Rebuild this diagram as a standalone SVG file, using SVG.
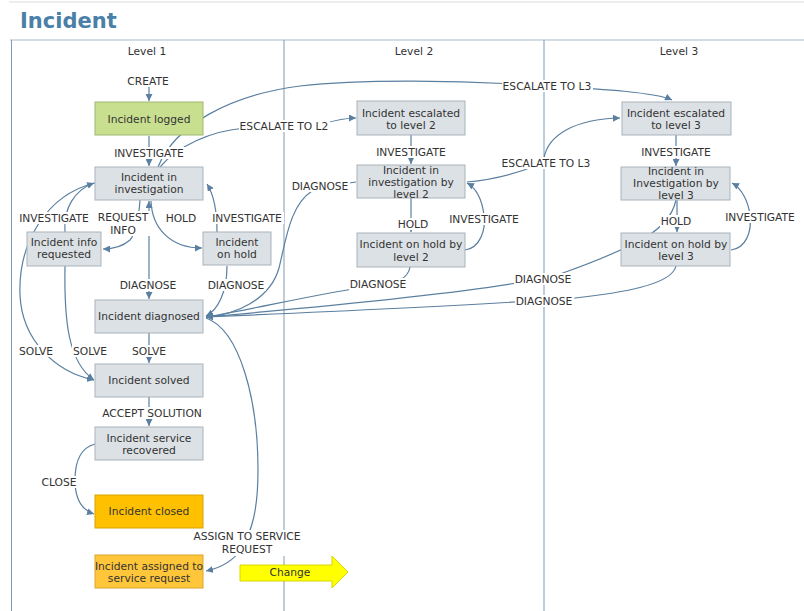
<svg xmlns="http://www.w3.org/2000/svg" width="804" height="611" viewBox="0 0 804 611">
  <defs>
    <marker id="arr" viewBox="0 0 8 8" refX="8" refY="4" markerWidth="7" markerHeight="7" markerUnits="userSpaceOnUse" orient="auto">
      <path d="M0,0 L8,4 L0,8 z" fill="#5a7fa0"/>
    </marker>
    <style>
      .frame { stroke: #7f9bb3; stroke-width: 1; fill: none; }
      .frame-top { stroke: #c3d2de; stroke-width: 1.5; }
      .conn { fill: none; stroke: #5a7fa0; stroke-width: 1.2; marker-end: url(#arr); }
      .node rect { fill: #dce1e5; stroke: #a9b3bb; stroke-width: 1; }
      .node.green rect { fill: #c8df8f; stroke: #9fb870; }
      .node.orange rect { fill: #ffc000; stroke: #d9a300; }
      .node.amber rect { fill: #ffc63a; stroke: #d9a52a; }
      text { font-family: "DejaVu Sans", Verdana, sans-serif; font-size: 10.7px; fill: #333; text-anchor: middle; }
      .lbl rect { fill: #ffffff; }
      .title { font-size: 21px; font-weight: bold; fill: #4a7fa8; text-anchor: start; }
    </style>
  </defs>

  <rect width="804" height="611" fill="#ffffff"/>

  <!-- page frame and swimlanes -->
  <line x1="9" y1="2" x2="804" y2="2" stroke="#ededed" stroke-width="2"/>
  <text class="title" x="20" y="28">Incident</text>
  <line class="frame-top" x1="10" y1="40" x2="804" y2="40"/>
  <line class="frame" x1="11.5" y1="40" x2="11.5" y2="611"/>
  <line class="frame" x1="284" y1="40" x2="284" y2="611"/>
  <line class="frame" x1="544" y1="40" x2="544" y2="611"/>
  <text x="147" y="55">Level 1</text>
  <text x="414" y="55">Level 2</text>
  <text x="679" y="55">Level 3</text>

  <!-- transitions -->
  <g id="connectors">
    <path class="conn" d="M149,87 L149,101"/>
    <path class="conn" d="M149,136 L149,166"/>
    <path class="conn" d="M160,167 C178,146 210,131 245,128 L322,124 C336,120 346,118 356,118"/>
    <path class="conn" d="M158,167 C175,125 230,95 300,86 C360,79 460,80 547,86 C600,89 655,92 672,100"/>
    <path class="conn" d="M411,135 L411,164"/>
    <path class="conn" d="M676,135 L676,166"/>
    <path class="conn" d="M467,182 C490,180 515,174 535,166 L544,158 C548,135 575,119 620,118"/>
    <path class="conn" d="M140,200 C139,215 137,232 130,240 C122,247 112,249 103,249"/>
    <path class="conn" d="M151,201 C152,228 170,248 202,248"/>
    <path class="conn" d="M217,232 C217,210 214,195 207,184"/>
    <path class="conn" d="M65,232 C63,208 75,190 94,183"/>
    <path class="conn" d="M95,183 C45,195 18,245 20,295 C22,340 55,372 94,380"/>
    <path class="conn" d="M65,266 C64,320 68,362 94,380"/>
    <path class="conn" d="M149,212 L149,201"/>
    <path class="conn" d="M149,236 L149,299"/>
    <path class="conn" d="M227,266 C227,292 218,310 206,316"/>
    <path class="conn" d="M356,182 C340,184 325,187 312,191 C290,205 286,240 279,268 C270,300 235,315 206,317"/>
    <path class="conn" d="M410,267 C408,279 395,284 378,285 C320,293 250,310 206,317"/>
    <path class="conn" d="M676,200 C672,218 660,228 645,238 C630,246 600,260 560,274 C520,286 400,300 206,317"/>
    <path class="conn" d="M676,266 C672,285 620,293 575,298 C480,305 300,313 206,317"/>
    <path class="conn" d="M411,198 L411,232"/>
    <path class="conn" d="M677,200 L677,232"/>
    <path class="conn" d="M465,250 C480,248 486,230 484,215 C482,200 476,188 467,183"/>
    <path class="conn" d="M731,250 C746,248 752,232 750,215 C748,200 741,188 732,183"/>
    <path class="conn" d="M149,333 L149,363"/>
    <path class="conn" d="M149,397 L149,426"/>
    <path class="conn" d="M95,444 C80,448 75,462 75,480 C75,500 82,510 94,514"/>
    <path class="conn" d="M206,318 C240,330 258,400 258,470 C258,510 252,530 242,548 C233,562 220,568 206,571"/>
  </g>

  <!-- transition labels -->
  <g id="labels" class="lbl">
    <rect x="126" y="75" width="44" height="12"/><text x="148" y="85">CREATE</text>
    <rect x="113" y="147" width="73" height="12"/><text x="149" y="157">INVESTIGATE</text>
    <rect x="239" y="120" width="91" height="12"/><text x="284" y="130">ESCALATE TO L2</text>
    <rect x="502" y="80" width="91" height="12"/><text x="547" y="90">ESCALATE TO L3</text>
    <rect x="375" y="146" width="73" height="12"/><text x="411" y="156">INVESTIGATE</text>
    <rect x="640" y="146" width="73" height="12"/><text x="676" y="156">INVESTIGATE</text>
    <rect x="501" y="157" width="91" height="12"/><text x="546" y="167">ESCALATE TO L3</text>
    <rect x="291" y="180" width="59" height="12"/><text x="320" y="190">DIAGNOSE</text>
    <rect x="18" y="212" width="73" height="12"/><text x="54" y="222">INVESTIGATE</text>
    <rect x="97" y="211" width="53" height="25"/><text x="123" y="221">REQUEST</text><text x="123" y="234">INFO</text>
    <rect x="165" y="212" width="33" height="12"/><text x="181" y="222">HOLD</text>
    <rect x="211" y="212" width="73" height="12"/><text x="247" y="222">INVESTIGATE</text>
    <rect x="397" y="218" width="33" height="12"/><text x="413" y="228">HOLD</text>
    <rect x="448" y="213" width="73" height="12"/><text x="484" y="223">INVESTIGATE</text>
    <rect x="660" y="215" width="33" height="12"/><text x="676" y="225">HOLD</text>
    <rect x="724" y="211" width="73" height="12"/><text x="760" y="221">INVESTIGATE</text>
    <rect x="119" y="279" width="59" height="12"/><text x="148" y="289">DIAGNOSE</text>
    <rect x="207" y="279" width="59" height="12"/><text x="236" y="289">DIAGNOSE</text>
    <rect x="349" y="278" width="59" height="12"/><text x="378" y="288">DIAGNOSE</text>
    <rect x="514" y="273" width="59" height="12"/><text x="543" y="283">DIAGNOSE</text>
    <rect x="515" y="295" width="59" height="12"/><text x="544" y="305">DIAGNOSE</text>
    <rect x="18" y="345" width="37" height="12"/><text x="36" y="355">SOLVE</text>
    <rect x="72" y="345" width="37" height="12"/><text x="90" y="355">SOLVE</text>
    <rect x="131" y="345" width="37" height="12"/><text x="149" y="355">SOLVE</text>
    <rect x="101" y="407" width="103" height="12"/><text x="152" y="417">ACCEPT SOLUTION</text>
    <rect x="41" y="476" width="37" height="12"/><text x="59" y="486">CLOSE</text>
    <rect x="192" y="530" width="111" height="26"/><text x="247" y="540">ASSIGN TO SERVICE</text><text x="247" y="553">REQUEST</text>
  </g>

  <!-- states, level 1 -->
  <g id="incident-logged" class="node green"><rect x="95" y="102" width="108" height="33"/><text x="149" y="123">Incident logged</text></g>
  <g id="incident-in-investigation" class="node"><rect x="95" y="167" width="108" height="33"/><text x="149" y="181">Incident in</text><text x="149" y="193">investigation</text></g>
  <g id="incident-info-requested" class="node"><rect x="27" y="232" width="74" height="34"/><text x="64" y="246">Incident info</text><text x="64" y="258">requested</text></g>
  <g id="incident-on-hold" class="node"><rect x="203" y="232" width="68" height="33"/><text x="237" y="246">Incident</text><text x="237" y="258">on hold</text></g>
  <g id="incident-diagnosed" class="node"><rect x="95" y="300" width="108" height="33"/><text x="149" y="320">Incident diagnosed</text></g>
  <g id="incident-solved" class="node"><rect x="95" y="364" width="108" height="33"/><text x="149" y="384">Incident solved</text></g>
  <g id="incident-service-recovered" class="node"><rect x="95" y="427" width="108" height="33"/><text x="149" y="442">Incident service</text><text x="149" y="454">recovered</text></g>
  <g id="incident-closed" class="node orange"><rect x="95" y="495" width="108" height="33"/><text x="149" y="515">Incident closed</text></g>
  <g id="incident-assigned" class="node amber"><rect x="95" y="555" width="108" height="33"/><text x="149" y="570">Incident assigned to</text><text x="149" y="582">service request</text></g>
  <g id="change">
    <polygon points="240,565 332,565 332,556 348,572 332,588 332,581 240,581" fill="#ffff00" stroke="#d6d600" stroke-width="1"/>
    <text x="290" y="576">Change</text>
  </g>

  <!-- states, level 2 -->
  <g id="incident-escalated-l2" class="node"><rect x="357" y="101" width="108" height="34"/><text x="411" y="117">Incident escalated</text><text x="411" y="129">to level 2</text></g>
  <g id="incident-investigation-l2" class="node"><rect x="357" y="165" width="108" height="33"/><text x="411" y="174">Incident in</text><text x="411" y="186">investigation by</text><text x="411" y="198">level 2</text></g>
  <g id="incident-hold-l2" class="node"><rect x="357" y="233" width="108" height="34"/><text x="411" y="248">Incident on hold by</text><text x="411" y="261">level 2</text></g>

  <!-- states, level 3 -->
  <g id="incident-escalated-l3" class="node"><rect x="622" y="102" width="109" height="33"/><text x="676" y="117">Incident escalated</text><text x="676" y="129">to level 3</text></g>
  <g id="incident-investigation-l3" class="node"><rect x="621" y="167" width="109" height="33"/><text x="676" y="175">Incident in</text><text x="676" y="187">Investigation by</text><text x="676" y="199">level 3</text></g>
  <g id="incident-hold-l3" class="node"><rect x="621" y="233" width="109" height="33"/><text x="676" y="248">Incident on hold by</text><text x="676" y="260">level 3</text></g>
</svg>
